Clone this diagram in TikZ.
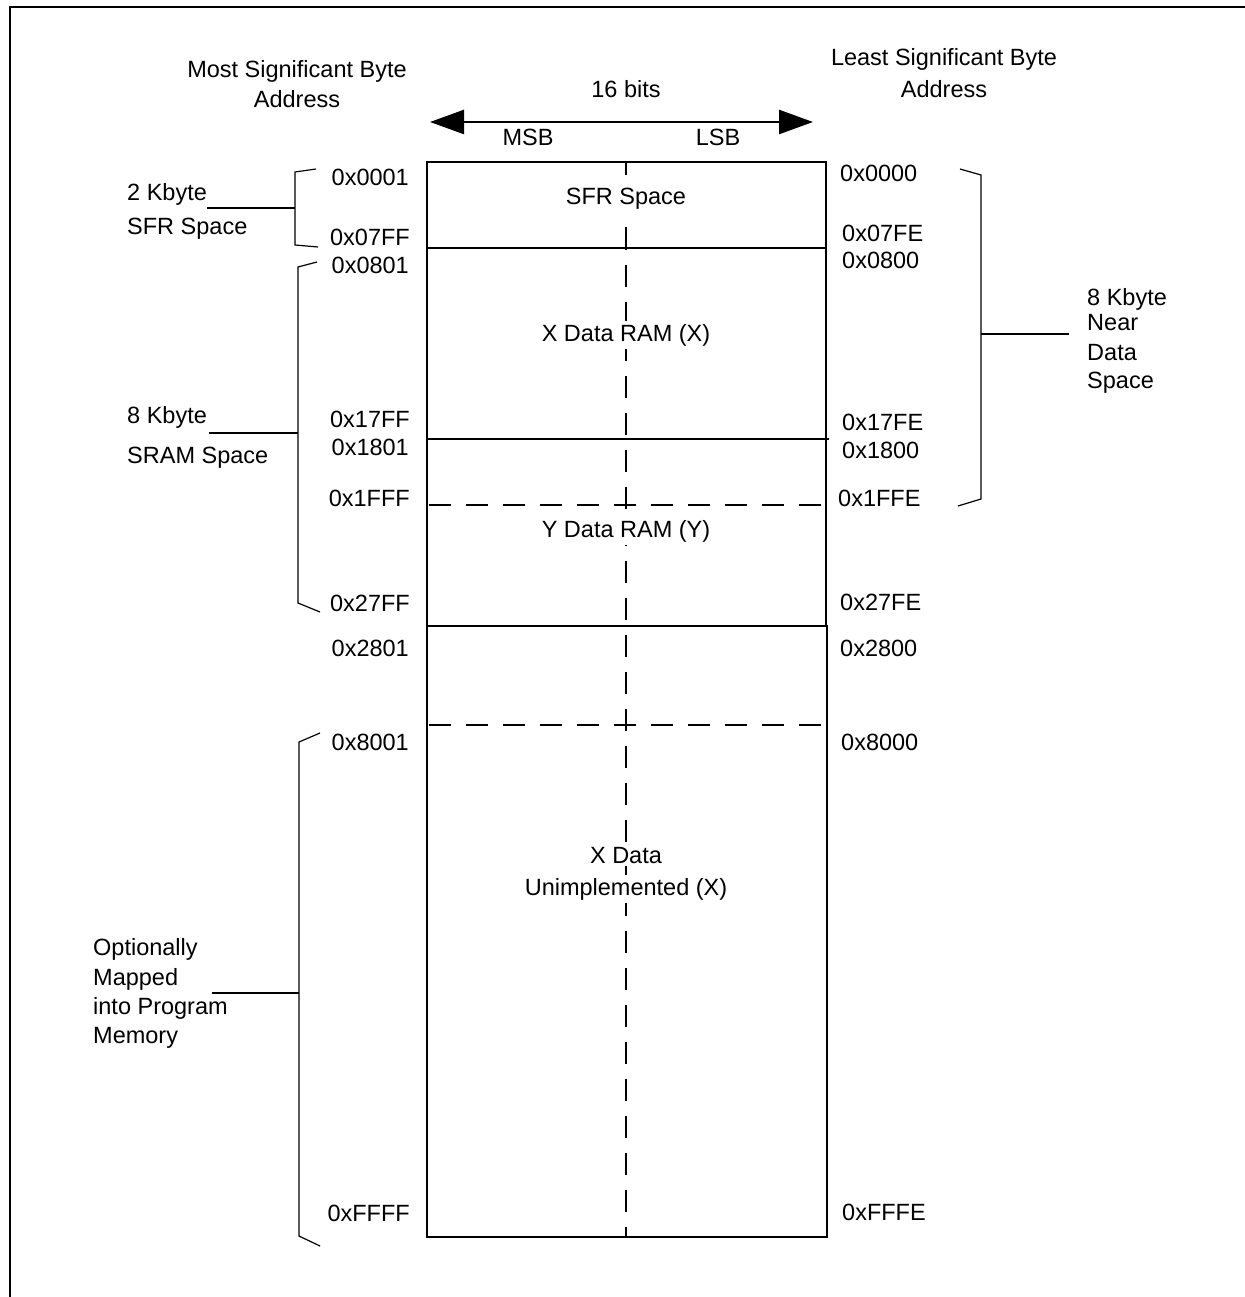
\documentclass[tikz,border=0pt]{standalone}
\usepackage{fontspec}
\setmainfont{Liberation Sans}
\usetikzlibrary{arrows.meta}
\begin{document}
\begin{tikzpicture}[x=1pt,y=-1pt,
  txt/.style={inner sep=0pt, font=\fontsize{23.5}{32}\selectfont},
  laddr/.style={txt, anchor=base east},
  raddr/.style={txt, anchor=base west},
  ltxt/.style={txt, anchor=base west},
  ctxt/.style={txt, anchor=base},
  region/.style={txt, anchor=base, fill=white, inner sep=3pt},
  boxline/.style={line width=2pt},
  brk/.style={line width=1.2pt},
  lead/.style={line width=2pt},
  dsh/.style={line width=2pt, dash pattern=on 22pt off 15pt},
]
\useasboundingbox (0,0) rectangle (1244,1297);
% frame
\draw[line width=2pt] (1250,7) -- (10,7) -- (10,1300);

% header
\node[ctxt] (msbh1) at (297,78) {Most Significant Byte};
\node[ctxt] (msbh2) at (297,108) {Address};
\node[ctxt] (lsbh1) at (944,66) {Least Significant Byte};
\node[ctxt] (lsbh2) at (944,98) {Address};
\node[ctxt] (bits) at (626,98) {16 bits};
\node[ctxt] (msb) at (528,146) {MSB};
\node[ctxt] (lsb) at (718,146) {LSB};
\coordinate (arL) at (430,122);
\coordinate (arR) at (813,122);
\draw[line width=2.5pt, {Triangle[length=34pt,width=24pt]}-{Triangle[length=34pt,width=24pt]}] (arL) -- (arR);

% centre dashed line
\coordinate (vtop) at (626,162);
\coordinate (vbot) at (626,1237);
\draw[dsh, dash phase=8.5pt] (vtop) -- (vbot);

% horizontal dashed lines
\coordinate (d1l) at (429,505);
\coordinate (d1r) at (826,505);
\coordinate (d2l) at (429,725);
\coordinate (d2r) at (826,725);
\draw[dsh] (d1l) -- (d1r);
\draw[dsh] (d2l) -- (d2r);

% boxes
\draw[boxline] (427,162) rectangle (826,626);
\draw[boxline] (427,626) rectangle (827,1237);
\draw[boxline] (427,248) -- (826,248);
\draw[boxline] (427,439) -- (829,439);

% region labels
\node[region] (sfr) at (626,205) {SFR Space};
\node[region] (xram) at (626,341) {X Data RAM (X)};
\node[region] (yram) at (626,537) {Y Data RAM (Y)};
\node[region] (xun1) at (626,863) {X Data};
\node[region] (xun2) at (626,895) {Unimplemented (X)};

% left addresses
\node[laddr] (a0001) at (409,186) {0x0001};
\node[laddr] (a07FF) at (410,246) {0x07FF};
\node[laddr] (a0801) at (409,273) {0x0801};
\node[laddr] (a17FF) at (410,427) {0x17FF};
\node[laddr] (a1801) at (409,455) {0x1801};
\node[laddr] (a1FFF) at (410,506) {0x1FFF};
\node[laddr] (a27FF) at (410,611) {0x27FF};
\node[laddr] (a2801) at (409,656) {0x2801};
\node[laddr] (a8001) at (409,750) {0x8001};
\node[laddr] (aFFFF) at (410,1221) {0xFFFF};

% right addresses
\node[raddr] (a0000) at (840,182) {0x0000};
\node[raddr] (a07FE) at (842,241) {0x07FE};
\node[raddr] (a0800) at (842,268) {0x0800};
\node[raddr] (a17FE) at (842,430) {0x17FE};
\node[raddr] (a1800) at (842,458) {0x1800};
\node[raddr] (a1FFE) at (838,506) {0x1FFE};
\node[raddr] (a27FE) at (840,610) {0x27FE};
\node[raddr] (a2800) at (840,656) {0x2800};
\node[raddr] (a8000) at (841,750) {0x8000};
\node[raddr] (aFFFE) at (842,1220) {0xFFFE};

% left labels
\node[ltxt] (kb2) at (127,201) {2 Kbyte};
\node[ltxt] (sfrs) at (127,234) {SFR Space};
\node[ltxt] (kb8) at (127,423) {8 Kbyte};
\node[ltxt] (srams) at (127,463) {SRAM Space};
\node[ltxt] (opt1) at (93,955) {Optionally};
\node[ltxt] (opt2) at (93,985) {Mapped};
\node[ltxt] (opt3) at (93,1014) {into Program};
\node[ltxt] (opt4) at (93,1043) {Memory};

% right labels
\node[ltxt] (nd1) at (1087,305) {8 Kbyte};
\node[ltxt] (nd2) at (1087,330) {Near};
\node[ltxt] (nd3) at (1087,360) {Data};
\node[ltxt] (nd4) at (1087,388) {Space};

% bracket 1 (SFR)
\coordinate (b1t) at (316,169);
\coordinate (b1a) at (295,172);
\coordinate (b1b) at (295,245);
\coordinate (b1e) at (318,247);
\coordinate (b1m) at (295,208);
\coordinate (b1s) at (207,208);
\draw[brk] (b1t) -- (b1a) -- (b1b) -- (b1e);
\draw[lead] (b1s) -- (b1m);

% bracket 2 (SRAM)
\coordinate (b2t) at (317,262);
\coordinate (b2a) at (298,267);
\coordinate (b2b) at (298,603);
\coordinate (b2e) at (320,612);
\coordinate (b2m) at (298,433);
\coordinate (b2s) at (209,433);
\draw[brk] (b2t) -- (b2a) -- (b2b) -- (b2e);
\draw[lead] (b2s) -- (b2m);

% bracket 3 (program memory)
\coordinate (b3t) at (320,733);
\coordinate (b3a) at (299,742);
\coordinate (b3b) at (299,1236);
\coordinate (b3e) at (320,1246);
\coordinate (b3m) at (299,993);
\coordinate (b3s) at (212,993);
\draw[brk] (b3t) -- (b3a) -- (b3b) -- (b3e);
\draw[lead] (b3s) -- (b3m);

% bracket 4 (near data space)
\coordinate (b4t) at (960,169);
\coordinate (b4a) at (981,175);
\coordinate (b4b) at (981,499);
\coordinate (b4e) at (958,506);
\coordinate (b4m) at (981,334);
\coordinate (b4s) at (1069,334);
\draw[brk] (b4t) -- (b4a) -- (b4b) -- (b4e);
\draw[lead] (b4m) -- (b4s);
\end{tikzpicture}
\end{document}
